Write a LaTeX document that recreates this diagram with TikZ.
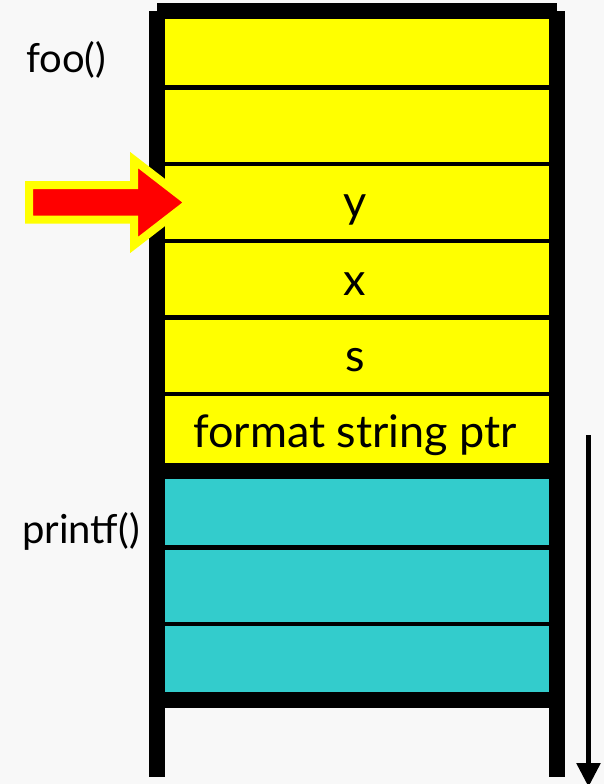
\documentclass[tikz,border=0pt]{standalone}
\usepackage{fontspec}
\setmainfont{Lato}
\usetikzlibrary{arrows.meta}
\definecolor{bg}{HTML}{F8F8F8}
\definecolor{stk}{HTML}{FFFF00}
\definecolor{cyn}{HTML}{33CCCC}
\begin{document}
\begin{tikzpicture}[x=1pt,y=-1pt,
  lbl/.style={font=\fontsize{45}{47}\selectfont, anchor=base, inner sep=0pt},
  side/.style={font=\fontsize{40}{42}\selectfont, anchor=base west, inner sep=0pt},
  divider/.style={fill=black}]
\useasboundingbox (0,0) rectangle (604,784);
\fill[bg] (0,0) rectangle (604,784);
% frame
\fill[black] (149,11) rectangle (165,777);
\fill[black] (549,11) rectangle (565,777);
\fill[black] (157,3) rectangle (557,19);
\fill[black] (165,463) rectangle (549,479);
\fill[black] (165,692) rectangle (549,708);
% cells
\fill[stk] (165,19) rectangle (549,463);
\fill[cyn] (165,479) rectangle (549,692);
\foreach \yy in {87.5,164,241,317.5,394,547.5,624}
  \fill[divider] (165,\yy-2.4) rectangle (549,\yy+2.4);
% labels
\node[lbl] (ty) at (355,217) {y};
\node[lbl] (tx) at (355,295) {x};
\node[lbl] (ts) at (355,371) {s};
\node[lbl] (tf) at (355,447) {format string ptr};
\node[side] (foo) at (26,72) {foo()};
\node[side] (printf) at (22,543) {printf()};
% red pointer arrow
\draw[stk, fill=red, line width=8pt, line join=miter]
  (29,185) -- (134,185) -- (134,160) -- (189,202.5) -- (134,245) -- (134,219.5) -- (29,219.5) -- cycle;
% growth arrow
\coordinate (g1) at (588.5,435);
\coordinate (g2) at (588.5,787);
\draw[line width=5.5pt, -{Triangle[width=23pt,length=24pt]}] (g1) -- (g2);
\end{tikzpicture}
\end{document}
